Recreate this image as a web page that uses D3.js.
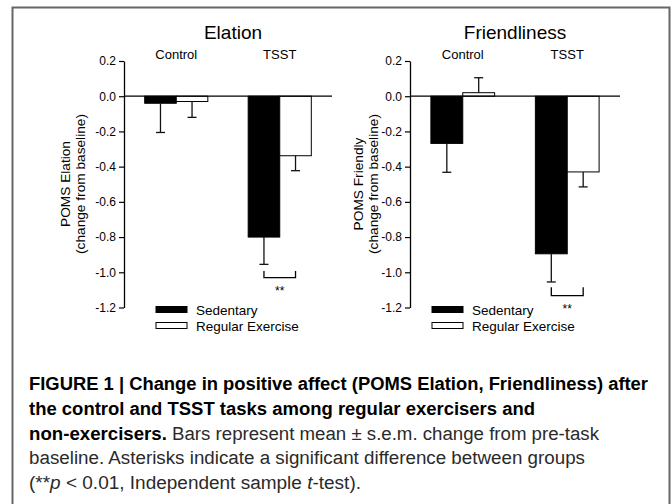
<!DOCTYPE html>
<html lang="en">
  <head>
    <meta charset="UTF-8" />
    <title>POMS Elation and Friendliness</title>
    <style>
      body {
        margin: 0;
        background: #fff;
      }
      svg text {
        font-family: "Liberation Sans", Arial, sans-serif;
      }
    </style>
  </head>
  <body>
    <div id="chart"></div>

    <script src="https://d3js.org/d3.v7.min.js"></script>
    <script>
      // data
      const groups = ["Control", "TSST"];
      const series = ["Sedentary", "Regular Exercise"];
      const yTicks = [0.2, 0.0, -0.2, -0.4, -0.6, -0.8, -1.0, -1.2];

      const elationSedentary = [-0.04, -0.80];
      const elationSedentaryErr = [0.166, 0.155];
      const elationRegular = [-0.03, -0.338];
      const elationRegularErr = [0.09, 0.085];

      const friendlySedentary = [-0.268, -0.895];
      const friendlySedentaryErr = [0.164, 0.16];
      const friendlyRegular = [0.02, -0.43];
      const friendlyRegularErr = [0.085, 0.085];

      // significance bracket (top, bottom) under the TSST pair
      const elationSig = [-0.993, -1.03];
      const friendlySig = [-1.085, -1.133];

      const width = 671;
      const height = 504;

      const svg = d3
        .select("#chart")
        .append("svg")
        .attr("width", width)
        .attr("height", height);

      // outer frame (bottom edge runs off the picture)
      svg
        .append("rect")
        .attr("x", 12.5)
        .attr("y", 7.5)
        .attr("width", 657)
        .attr("height", 530)
        .attr("fill", "none")
        .attr("stroke", "#666")
        .attr("stroke-width", 2);

      const y = d3.scaleLinear().domain([-1.2, 0.2]).range([307.5, 61]);

      function drawPanel(cfg) {
        const g = svg.append("g");

        const x0 = d3
          .scaleBand()
          .domain(groups)
          .range(cfg.xRange)
          .paddingInner(0.39)
          .paddingOuter(0.2);
        const x1 = d3
          .scaleBand()
          .domain(series)
          .range([0, x0.bandwidth()]);

        const rows = groups.map((grp, i) => [
          { grp, s: series[0], v: cfg.sed[i], e: cfg.sedErr[i] },
          { grp, s: series[1], v: cfg.reg[i], e: cfg.regErr[i] },
        ]).flat();

        // title + group labels
        g.append("text")
          .attr("x", (cfg.xRange[0] + cfg.xRange[1]) / 2 + cfg.titleShift)
          .attr("y", 39)
          .attr("text-anchor", "middle")
          .attr("font-size", 19)
          .text(cfg.title);

        g.selectAll(".grp")
          .data(groups)
          .enter()
          .append("text")
          .attr("x", (d) => x0(d) + x0.bandwidth() / 2)
          .attr("y", 59)
          .attr("text-anchor", "middle")
          .attr("font-size", 13)
          .text((d) => d);

        // bars
        g.selectAll(".bar")
          .data(rows)
          .enter()
          .append("rect")
          .attr("x", (d) => x0(d.grp) + x1(d.s))
          .attr("y", (d) => y(Math.max(0, d.v)))
          .attr("width", x1.bandwidth())
          .attr("height", (d) => Math.abs(y(d.v) - y(0)))
          .attr("fill", (d) => (d.s === series[0] ? "#000" : "#fff"))
          .attr("stroke", "#000")
          .attr("stroke-width", 1);

        // error bars (away from zero only)
        const eb = g
          .selectAll(".err")
          .data(rows)
          .enter()
          .append("g")
          .attr("stroke", "#111")
          .attr("stroke-width", 1.3);
        const cx = (d) => x0(d.grp) + x1(d.s) + x1.bandwidth() / 2;
        const tip = (d) => (d.v < 0 ? d.v - d.e : d.v + d.e);
        eb.append("line")
          .attr("x1", cx)
          .attr("x2", cx)
          .attr("y1", (d) => y(d.v))
          .attr("y2", (d) => y(tip(d)));
        eb.append("line")
          .attr("x1", (d) => cx(d) - 4.5)
          .attr("x2", (d) => cx(d) + 4.5)
          .attr("y1", (d) => y(tip(d)))
          .attr("y2", (d) => y(tip(d)));

        // zero line
        g.append("line")
          .attr("x1", cfg.xRange[0])
          .attr("x2", cfg.xRange[1])
          .attr("y1", y(0))
          .attr("y2", y(0))
          .attr("stroke", "#000")
          .attr("stroke-width", 1.3);

        // y axis
        const axis = g
          .append("g")
          .attr("transform", `translate(${cfg.xRange[0]},0)`)
          .call(
            d3
              .axisLeft(y)
              .tickValues(yTicks)
              .tickFormat(d3.format(".1f"))
              .tickSize(5)
              .tickSizeOuter(0)
              .tickPadding(3)
          );
        axis.select(".domain").attr("stroke", "#000").attr("stroke-width", 1.3);
        axis.selectAll(".tick line").attr("stroke", "#000").attr("stroke-width", 1.2);
        axis
          .selectAll(".tick text")
          .attr("font-family", "Liberation Sans, Arial, sans-serif")
          .attr("font-size", 12)
          .attr("fill", "#000")
          .text((d) => d3.format(".1f")(d).replace("−", "-"));

        // y label, two lines
        const yl = g
          .append("text")
          .attr("transform", `translate(${cfg.labelX},184) rotate(-90)`)
          .attr("text-anchor", "middle")
          .attr("font-size", 13.7);
        yl.append("tspan").attr("x", 0).attr("y", 0).text(cfg.yLabel);
        yl.append("tspan").attr("x", 0).attr("y", 15).text("(change from baseline)");

        // significance bracket under TSST pair
        const tsst = groups[1];
        const bx1 = x0(tsst) + x1(series[0]) + x1.bandwidth() / 2;
        const bx2 = x0(tsst) + x1(series[1]) + x1.bandwidth() / 2;
        g.append("path")
          .attr(
            "d",
            `M${bx1},${y(cfg.sig[0])}V${y(cfg.sig[1])}H${bx2}V${y(cfg.sig[0])}`
          )
          .attr("fill", "none")
          .attr("stroke", "#000")
          .attr("stroke-width", 1.3);
        g.append("text")
          .attr("x", (bx1 + bx2) / 2)
          .attr("y", cfg.starY)
          .attr("text-anchor", "middle")
          .attr("font-size", 12)
          .text("**");

        // legend
        const lg = g
          .append("g")
          .attr("transform", `translate(${cfg.legendX},0)`);
        series.forEach((s, i) => {
          lg.append("rect")
            .attr("x", 0)
            .attr("y", 306.5 + i * 16)
            .attr("width", 31)
            .attr("height", 6)
            .attr("fill", i === 0 ? "#000" : "#fff")
            .attr("stroke", "#000")
            .attr("stroke-width", 1);
          lg.append("text")
            .attr("x", 40)
            .attr("y", 314.5 + i * 16)
            .attr("font-size", 13.5)
            .text(s);
        });
      }

      drawPanel({
        xRange: [124, 332],
        title: "Elation",
        titleShift: 5,
        yLabel: "POMS Elation",
        labelX: 70,
        sed: elationSedentary,
        sedErr: elationSedentaryErr,
        reg: elationRegular,
        regErr: elationRegularErr,
        sig: elationSig,
        starY: 295,
        legendX: 156,
      });

      drawPanel({
        xRange: [410, 620],
        title: "Friendliness",
        titleShift: 0,
        yLabel: "POMS Friendly",
        labelX: 363,
        sed: friendlySedentary,
        sedErr: friendlySedentaryErr,
        reg: friendlyRegular,
        regErr: friendlyRegularErr,
        sig: friendlySig,
        starY: 313,
        legendX: 432,
      });

      // caption (condensed face in the original, so each line is fitted)
      const captionLines = [
        [{ t: "FIGURE 1 | Change in positive affect (POMS Elation, Friendliness) after", b: true }],
        [{ t: "the control and TSST tasks among regular exercisers and", b: true }],
        [
          { t: "non-exercisers.", b: true },
          { t: " Bars represent mean \u00b1 s.e.m. change from pre-task" },
        ],
        [{ t: "baseline. Asterisks indicate a significant difference between groups" }],
        [
          { t: "(**" },
          { t: "p", i: true },
          { t: " < 0.01, Independent sample " },
          { t: "t", i: true },
          { t: "-test)." },
        ],
      ];
      const captionWidths = [619, 506, 570, 556, 332];

      captionLines.forEach((parts, i) => {
        const t = svg
          .append("text")
          .attr("x", 29)
          .attr("y", 390 + i * 24.8)
          .attr("font-size", 18)
          .attr("fill", "#2a2a2a")
          .attr("textLength", captionWidths[i])
          .attr("lengthAdjust", "spacingAndGlyphs");
        parts.forEach((p) => {
          t.append("tspan")
            .attr("font-weight", p.b ? "bold" : null)
            .attr("font-style", p.i ? "italic" : null)
            .attr("fill", p.b ? "#000" : null)
            .text(p.t);
        });
      });
    </script>
  </body>
</html>
